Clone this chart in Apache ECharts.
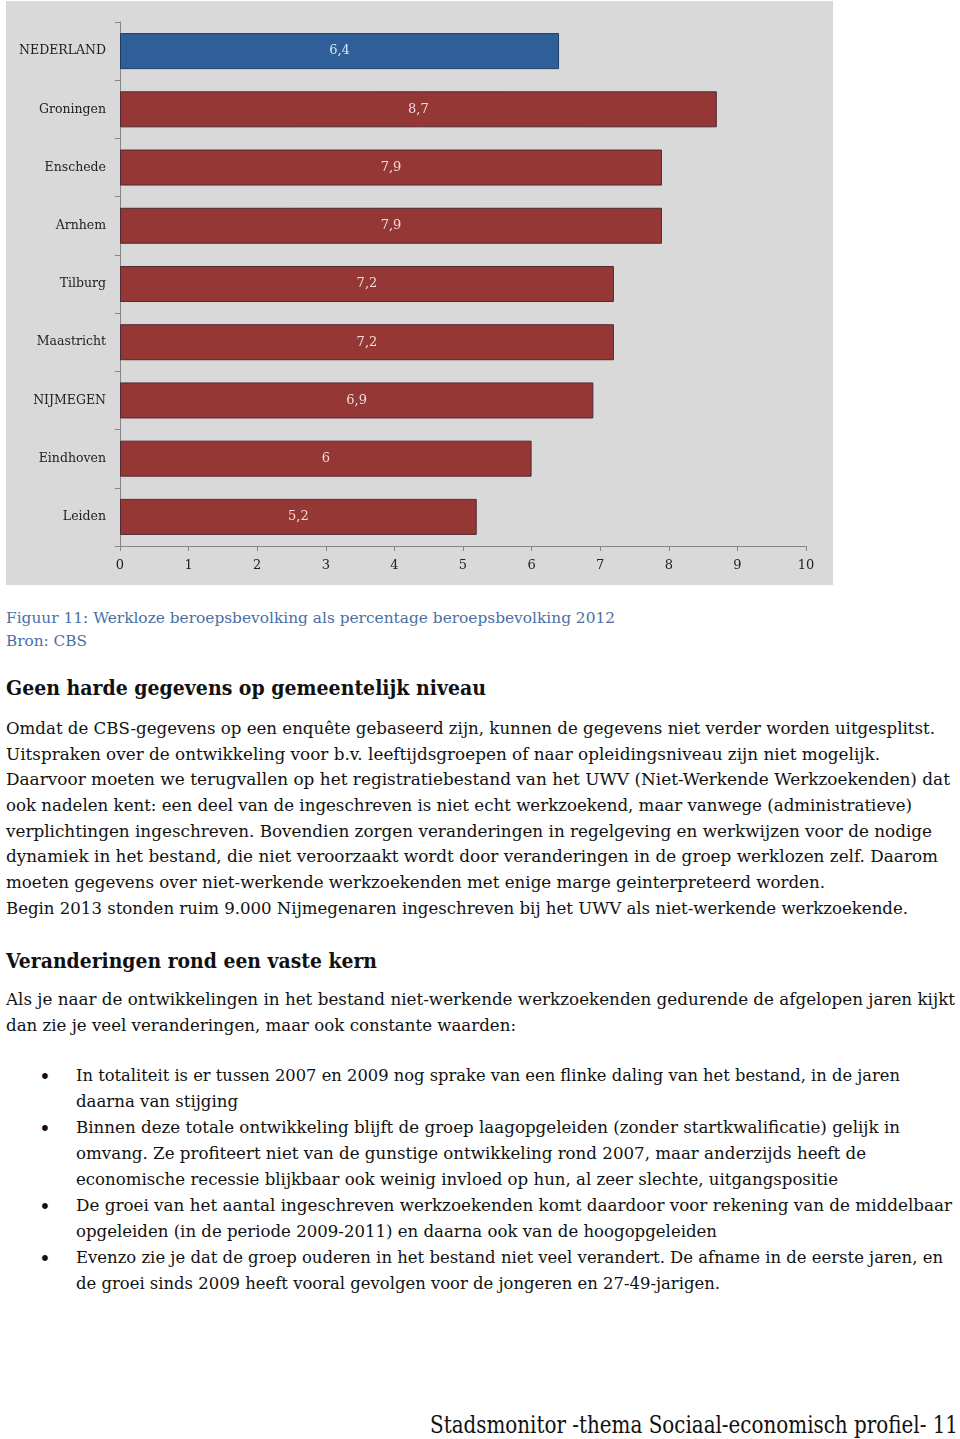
<!DOCTYPE html>
<html>
<head>
<meta charset="utf-8">
<script src="https://cdn.jsdelivr.net/npm/echarts@6/dist/echarts.min.js"></script>
<style>
  html, body { margin: 0; padding: 0; background: #ffffff; }
  body { width: 960px; height: 1439px; position: relative; overflow: hidden; font-family: "DejaVu Serif", serif; color: #111; }
  #chart { position: absolute; left: 6px; top: 1px; width: 827px; height: 584px; background: #d9d9d9; }
  .ln { position: absolute; white-space: pre; font-size: 16px; line-height: 26px; transform-origin: 0 50%; display: inline-block; }
  .cap { color: #4a6fa5; font-size: 15px; }
  .h { font-weight: bold; font-size: 20px; line-height: 30px; }
  .bul { position: absolute; font-size: 20px; line-height: 26px; }
  .foot { font-size: 24px; line-height: 32px; color: #111; }
</style>
</head>
<body>
<div id="chart"></div>

<div class="ln cap" style="left:6px;top:605px" data-r="615">Figuur 11: Werkloze beroepsbevolking als percentage beroepsbevolking 2012</div>
<div class="ln cap" style="left:6px;top:628px" data-r="87">Bron: CBS</div>

<div class="ln h" style="left:6px;top:673px" data-r="486">Geen harde gegevens op gemeentelijk niveau</div>

<div class="ln" style="left:6px;top:716px" data-r="935">Omdat de CBS-gegevens op een enquête gebaseerd zijn, kunnen de gegevens niet verder worden uitgesplitst.</div>
<div class="ln" style="left:6px;top:742px" data-r="880">Uitspraken over de ontwikkeling voor b.v. leeftijdsgroepen of naar opleidingsniveau zijn niet mogelijk.</div>
<div class="ln" style="left:6px;top:767px" data-r="950">Daarvoor moeten we terugvallen op het registratiebestand van het UWV (Niet-Werkende Werkzoekenden) dat</div>
<div class="ln" style="left:6px;top:793px" data-r="912">ook nadelen kent: een deel van de ingeschreven is niet echt werkzoekend, maar vanwege (administratieve)</div>
<div class="ln" style="left:6px;top:819px" data-r="932">verplichtingen ingeschreven. Bovendien zorgen veranderingen in regelgeving en werkwijzen voor de nodige</div>
<div class="ln" style="left:6px;top:844px" data-r="938">dynamiek in het bestand, die niet veroorzaakt wordt door veranderingen in de groep werklozen zelf. Daarom</div>
<div class="ln" style="left:6px;top:870px" data-r="825">moeten gegevens over niet-werkende werkzoekenden met enige marge geinterpreteerd worden.</div>
<div class="ln" style="left:6px;top:896px" data-r="908">Begin 2013 stonden ruim 9.000 Nijmegenaren ingeschreven bij het UWV als niet-werkende werkzoekende.</div>

<div class="ln h" style="left:6px;top:946px" data-r="377">Veranderingen rond een vaste kern</div>

<div class="ln" style="left:6px;top:987px" data-r="955">Als je naar de ontwikkelingen in het bestand niet-werkende werkzoekenden gedurende de afgelopen jaren kijkt</div>
<div class="ln" style="left:6px;top:1013px" data-r="516">dan zie je veel veranderingen, maar ook constante waarden:</div>

<div class="bul" style="left:39px;top:1064px">•</div>
<div class="ln" style="left:76px;top:1063px" data-r="900">In totaliteit is er tussen 2007 en 2009 nog sprake van een flinke daling van het bestand, in de jaren</div>
<div class="ln" style="left:76px;top:1089px" data-r="238">daarna van stijging</div>
<div class="bul" style="left:39px;top:1116px">•</div>
<div class="ln" style="left:76px;top:1115px" data-r="900">Binnen deze totale ontwikkeling blijft de groep laagopgeleiden (zonder startkwalificatie) gelijk in</div>
<div class="ln" style="left:76px;top:1141px" data-r="866">omvang. Ze profiteert niet van de gunstige ontwikkeling rond 2007, maar anderzijds heeft de</div>
<div class="ln" style="left:76px;top:1167px" data-r="838">economische recessie blijkbaar ook weinig invloed op hun, al zeer slechte, uitgangspositie</div>
<div class="bul" style="left:39px;top:1194px">•</div>
<div class="ln" style="left:76px;top:1193px" data-r="952">De groei van het aantal ingeschreven werkzoekenden komt daardoor voor rekening van de middelbaar</div>
<div class="ln" style="left:76px;top:1219px" data-r="717">opgeleiden (in de periode 2009-2011) en daarna ook van de hoogopgeleiden</div>
<div class="bul" style="left:39px;top:1246px">•</div>
<div class="ln" style="left:76px;top:1245px" data-r="943">Evenzo zie je dat de groep ouderen in het bestand niet veel verandert. De afname in de eerste jaren, en</div>
<div class="ln" style="left:76px;top:1271px" data-r="720">de groei sinds 2009 heeft vooral gevolgen voor de jongeren en 27-49-jarigen.</div>

<div class="ln foot" style="left:430px;top:1409px" data-r="958">Stadsmonitor -thema Sociaal-economisch profiel- 11</div>

<script>
// ---- chart data ----
const categories = ['NEDERLAND', 'Groningen', 'Enschede', 'Arnhem', 'Tilburg', 'Maastricht', 'NIJMEGEN', 'Eindhoven', 'Leiden'];
const values = [6.4, 8.7, 7.9, 7.9, 7.2, 7.2, 6.9, 6.0, 5.2];
const isNational = [true, false, false, false, false, false, false, false, false];
const xMin = 0, xMax = 10, xInterval = 1;

const chart = echarts.init(document.getElementById('chart'), null, { renderer: 'canvas' });
const fontFam = '"DejaVu Serif", serif';
chart.setOption({
  backgroundColor: '#d9d9d9',
  animation: false,
  grid: { left: 114, right: 27, top: 21, bottom: 39, containLabel: false },
  xAxis: {
    type: 'value', min: xMin, max: xMax, interval: xInterval,
    axisLine: { show: true, lineStyle: { color: '#868686', width: 1 } },
    axisTick: { show: true, length: 5, lineStyle: { color: '#868686' } },
    splitLine: { show: false },
    axisLabel: { color: '#222', fontFamily: fontFam, fontSize: 13, margin: 13 }
  },
  yAxis: {
    type: 'category', data: categories, inverse: true,
    axisLine: { show: true, lineStyle: { color: '#868686', width: 1 } },
    axisTick: { show: true, length: 5, lineStyle: { color: '#868686' } },
    axisLabel: { color: '#222', fontFamily: fontFam, fontSize: 12.5, margin: 14, padding: [3, 0, 0, 0] }
  },
  series: [{
    type: 'bar',
    barWidth: 36,
    data: values.map((v, i) => ({
      value: v,
      itemStyle: isNational[i]
        ? { color: '#2f5f98', borderColor: '#1e3d63', borderWidth: 1 }
        : { color: '#953735', borderColor: '#4e2a36', borderWidth: 1 },
      label: { color: isNational[i] ? '#dde7f3' : '#f2dcdb' }
    })),
    label: {
      show: true, position: 'inside', fontFamily: fontFam, fontSize: 13,
      formatter: p => String(p.value).replace('.', ',')
    }
  }]
});

// fit each text line to its measured width in the original page
document.querySelectorAll('.ln').forEach(el => {
  const left = parseFloat(el.style.left);
  const r = parseFloat(el.dataset.r);
  const w = el.getBoundingClientRect().width;
  if (w > 0) el.style.transform = 'scaleX(' + ((r - left) / w).toFixed(4) + ')';
});
</script>
</body>
</html>
